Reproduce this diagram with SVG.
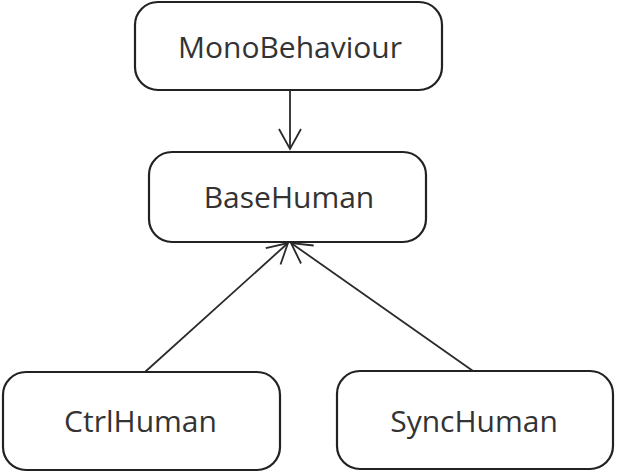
<svg xmlns="http://www.w3.org/2000/svg" width="617" height="475" viewBox="0 0 617 475">
  <style>
    .box { fill: #ffffff; stroke: #222222; stroke-width: 2.2; }
    .label { font-family: "Open Sans", "DejaVu Sans", sans-serif; font-size: 30px; fill: #333333; text-anchor: middle; }
    .edge { fill: none; stroke: #2a2a2a; stroke-width: 1.8; }
  </style>
  <defs>
    <marker id="open" viewBox="0 0 24 24" refX="22" refY="12" markerWidth="24" markerHeight="24" markerUnits="userSpaceOnUse" orient="auto">
      <path d="M2,1 L22,12 L2,23" fill="none" stroke="#2a2a2a" stroke-width="1.8"/>
    </marker>
  </defs>
  <rect width="617" height="475" fill="#ffffff"/>
  <g id="edges">
    <line class="edge" x1="290" y1="90" x2="290" y2="149" marker-end="url(#open)"/>
    <line class="edge" x1="145" y1="372" x2="288" y2="243" marker-end="url(#open)"/>
    <line class="edge" x1="473" y1="371" x2="291" y2="243" marker-end="url(#open)"/>
  </g>
  <g id="MonoBehaviour">
    <rect class="box" x="135" y="2" width="307" height="88" rx="23" ry="23"/>
    <text class="label" x="290" y="58">MonoBehaviour</text>
  </g>
  <g id="BaseHuman">
    <rect class="box" x="149" y="152" width="277" height="90" rx="23" ry="23"/>
    <text class="label" x="289" y="208">BaseHuman</text>
  </g>
  <g id="CtrlHuman">
    <rect class="box" x="3" y="372" width="277" height="98" rx="23" ry="23"/>
    <text class="label" x="140.5" y="432">CtrlHuman</text>
  </g>
  <g id="SyncHuman">
    <rect class="box" x="337" y="371" width="276" height="98" rx="23" ry="23"/>
    <text class="label" x="474" y="432">SyncHuman</text>
  </g>
</svg>
